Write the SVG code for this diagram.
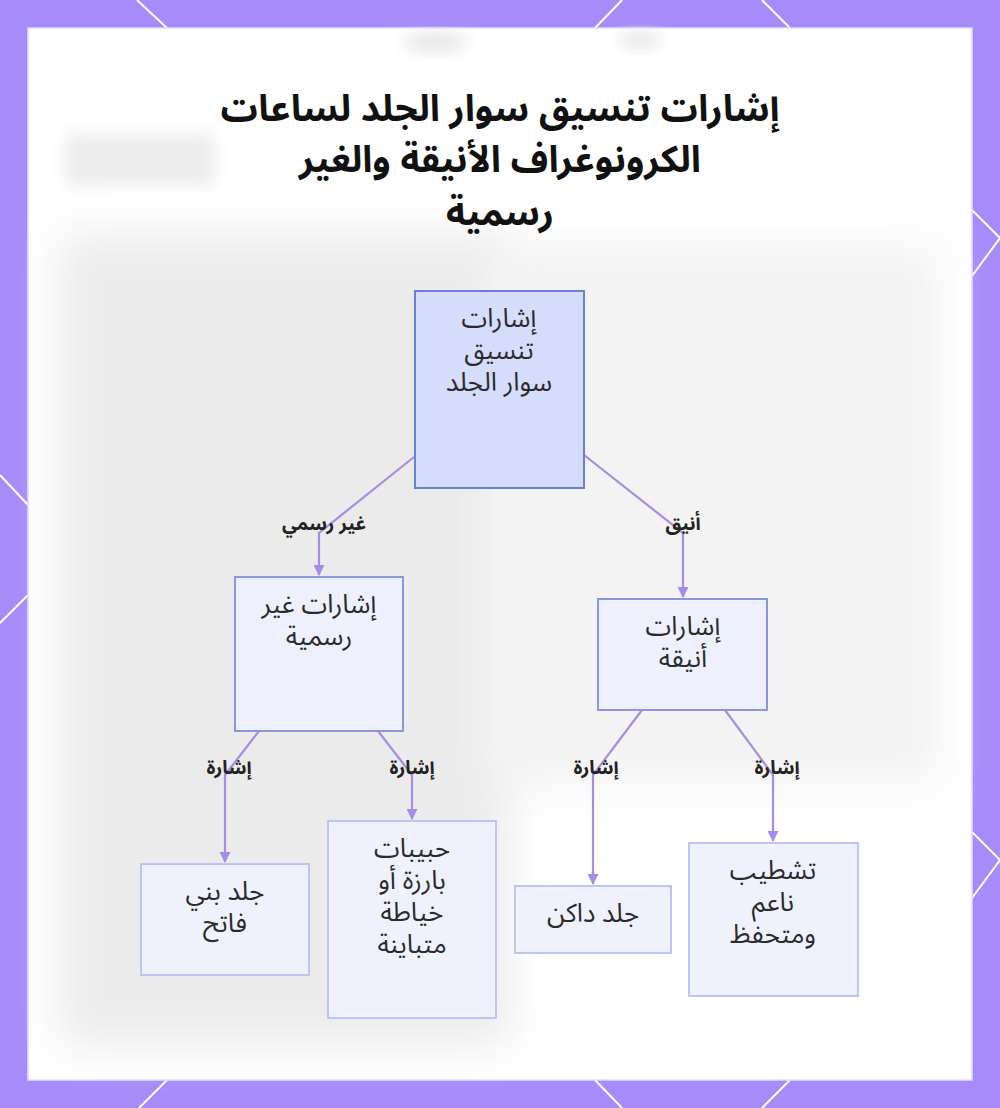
<svg xmlns="http://www.w3.org/2000/svg" width="1000" height="1108" viewBox="0 0 1000 1108">
<defs>
<style>
.frame-line{stroke:#ffffff;stroke-width:2;fill:none}
.node rect{stroke-width:2}
.root rect{fill:#d6dcfc;stroke:#6b80d8}
.mid rect{fill:#eef1fd;stroke:#8797e0}
.leaf rect{fill:#eff2fd;stroke:#bcc6f4}
.nt{font-family:"Noto Sans Arabic","Noto Sans","DejaVu Sans",sans-serif;font-size:26px;fill:#2b2b2b;text-anchor:middle}
.lbl{font-family:"Noto Sans Arabic","Noto Sans","DejaVu Sans",sans-serif;font-size:19px;font-weight:bold;fill:#222;text-anchor:middle}
.title{font-family:"Noto Sans Arabic","Noto Sans","DejaVu Sans",sans-serif;font-size:37px;font-weight:bold;fill:#111;text-anchor:middle}
.edge{stroke:#a78be8;stroke-width:2.2;fill:none}
</style>
<marker id="arr" viewBox="0 0 10 10" refX="9" refY="5" markerWidth="5" markerHeight="5" orient="auto">
<path d="M0,0 L10,5 L0,10 z" fill="#a78be8"/>
</marker>
<filter id="blur" x="-20%" y="-20%" width="140%" height="140%"><feGaussianBlur stdDeviation="22"/></filter>
<filter id="blur2" x="-30%" y="-30%" width="160%" height="160%"><feGaussianBlur stdDeviation="8"/></filter>
</defs>
<rect x="0" y="0" width="1000" height="1108" fill="#a78bf9"/>
<g class="frame-line">
<path d="M137,0 L167,28"/><path d="M622,0 L595,28"/><path d="M762,0 L790,28"/>
<path d="M167,1080 L139,1108"/><path d="M595,1080 L622,1108"/><path d="M790,1080 L762,1108"/>
<path d="M0,475 L28,505"/><path d="M28,595 L0,623"/>
<path d="M972,210 L1000,238 L972,276"/>
<path d="M972,832 L1000,860 L972,898"/>
</g>
<rect x="28" y="28" width="944" height="1052" fill="#ffffff" stroke="#e4dcfb" stroke-width="1.5"/>
<g id="background-photo">
<rect x="60" y="235" width="450" height="810" fill="#ebebeb" filter="url(#blur)"/>
<rect x="490" y="245" width="450" height="540" fill="#f3f3f3" filter="url(#blur)"/>
<rect x="65" y="135" width="150" height="50" fill="#ececec" filter="url(#blur2)"/>
<ellipse cx="435" cy="42" rx="32" ry="10" fill="#e6e6e6" filter="url(#blur2)"/>
<ellipse cx="640" cy="40" rx="20" ry="9" fill="#e6e6e6" filter="url(#blur2)"/>
</g>
<g id="title">
<text class="title" x="500" y="121">إشارات تنسيق سوار الجلد لساعات</text>
<text class="title" x="500" y="172">الكرونوغراف الأنيقة والغير</text>
<text class="title" x="500" y="225">رسمية</text>
</g>
<g id="connectors">
<path class="edge" d="M414,457 L319,533 L319,575" marker-end="url(#arr)"/>
<path class="edge" d="M584,455 L683,533 L683,597" marker-end="url(#arr)"/>
<path class="edge" d="M259,731 L225,775 L225,862" marker-end="url(#arr)"/>
<path class="edge" d="M378,731 L412,775 L412,819" marker-end="url(#arr)"/>
<path class="edge" d="M642,710 L593,775 L593,884" marker-end="url(#arr)"/>
<path class="edge" d="M725,710 L773,775 L773,841" marker-end="url(#arr)"/>
<text class="lbl" x="324" y="530">غير رسمي</text>
<text class="lbl" x="683" y="530">أنيق</text>
<text class="lbl" x="229" y="774">إشارة</text>
<text class="lbl" x="412" y="774">إشارة</text>
<text class="lbl" x="596" y="774">إشارة</text>
<text class="lbl" x="777" y="774">إشارة</text>
</g>
<g id="node-root" class="node root">
<rect x="415" y="291" width="169" height="197"/>
<text class="nt" x="499" y="327">إشارات</text>
<text class="nt" x="499" y="359">تنسيق</text>
<text class="nt" x="499" y="391">سوار الجلد</text>
</g>
<g id="node-informal" class="node mid">
<rect x="235" y="577" width="168" height="154"/>
<text class="nt" x="319" y="613">إشارات غير</text>
<text class="nt" x="319" y="645">رسمية</text>
</g>
<g id="node-elegant" class="node mid">
<rect x="598" y="599" width="169" height="111"/>
<text class="nt" x="683" y="635">إشارات</text>
<text class="nt" x="683" y="667">أنيقة</text>
</g>
<g id="node-light-brown" class="node leaf">
<rect x="141" y="864" width="168" height="111"/>
<text class="nt" x="225" y="900">جلد بني</text>
<text class="nt" x="225" y="932">فاتح</text>
</g>
<g id="node-stitching" class="node leaf">
<rect x="328" y="821" width="168" height="197"/>
<text class="nt" x="412" y="857">حبيبات</text>
<text class="nt" x="412" y="889">بارزة أو</text>
<text class="nt" x="412" y="921">خياطة</text>
<text class="nt" x="412" y="953">متباينة</text>
</g>
<g id="node-dark" class="node leaf">
<rect x="515" y="886" width="156" height="67"/>
<text class="nt" x="593" y="922">جلد داكن</text>
</g>
<g id="node-smooth" class="node leaf">
<rect x="689" y="843" width="169" height="153"/>
<text class="nt" x="773" y="879">تشطيب</text>
<text class="nt" x="773" y="911">ناعم</text>
<text class="nt" x="773" y="943">ومتحفظ</text>
</g>
</svg>
